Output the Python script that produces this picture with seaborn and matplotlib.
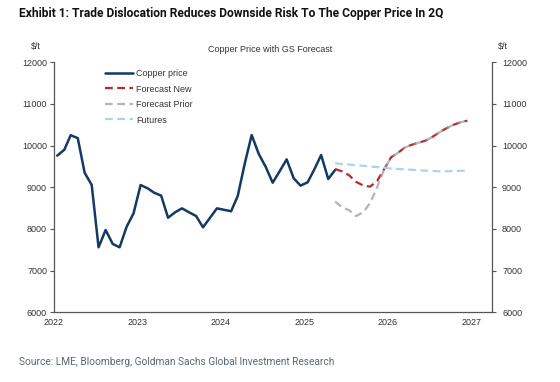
import numpy as np
import pandas as pd
import matplotlib
matplotlib.use("Agg")
import matplotlib.pyplot as plt
import matplotlib.dates as mdates
import seaborn as sns

# monthly copper price, Jan 2022 - May 2025 ($/t)
copper_price = [9760, 9900, 10250, 10180, 9350, 9055, 7560, 7975, 7640, 7560,
                8055, 8375, 9055, 8975, 8870, 8800, 8270, 8400, 8495, 8400,
                8310, 8040, 8270, 8495, 8460, 8425, 8790, 9575, 10255, 9800,
                9495, 9110, 9390, 9670, 9215, 9040, 9120, 9450, 9775, 9200,
                9415]
# forecasts, May 2025 - Dec 2026
forecast_new = [9440, 9380, 9290, 9130, 9045, 9015, 9150, 9430, 9720, 9830,
                9950, 10020, 10070, 10120, 10210, 10320, 10420, 10500, 10560, 10600]
forecast_prior = [8660, 8520, 8450, 8310, 8400, 8620, 9000, 9420, 9720, 9830,
                  9950, 10020, 10070, 10120, 10210, 10320, 10420, 10500, 10560, 10600]
futures = [9575, 9560, 9545, 9530, 9515, 9500, 9485, 9470, 9450, 9440,
           9430, 9420, 9410, 9400, 9390, 9385, 9385, 9390, 9395, 9400]

hist_dates = pd.date_range("2022-01-01", "2025-05-01", freq="MS") + pd.Timedelta(days=14)
fc_dates = pd.date_range("2025-05-01", "2026-12-01", freq="MS") + pd.Timedelta(days=14)

hist = pd.DataFrame({"date": hist_dates, "price": copper_price})
fc = pd.DataFrame({"date": fc_dates, "new": forecast_new,
                   "prior": forecast_prior, "futures": futures})

sns.set_theme(style="white")
plt.rcParams["font.family"] = ["Liberation Sans", "DejaVu Sans"]

fig = plt.figure(figsize=(5.6, 3.82), dpi=100)
ax = fig.add_axes([54 / 560, 1 - 312.3 / 382, (492.3 - 54) / 560, 250 / 382])

navy = "#123a63"
red = "#c0262d"
grey = "#9c9c9c"
lblue = "#a8d4f0"

sns.lineplot(data=hist, x="date", y="price", ax=ax, color=navy, lw=1.8,
             label="Copper price")
sns.lineplot(data=fc, x="date", y="new", ax=ax, color=red, lw=1.6,
             label="Forecast New")
ax.lines[-1].set_dashes([3.5, 2])
sns.lineplot(data=fc, x="date", y="prior", ax=ax, color=grey, lw=1.6,
             alpha=0.75, label="Forecast Prior")
ax.lines[-1].set_dashes([3.5, 2])
sns.lineplot(data=fc, x="date", y="futures", ax=ax, color=lblue, lw=1.6,
             label="Futures")
ax.lines[-1].set_dashes([3.5, 2])

ax.set_xlim(pd.Timestamp("2022-01-01"), pd.Timestamp("2027-04-03"))
ax.set_ylim(6000, 12000)
ax.set_yticks(np.arange(6000, 12001, 1000))
ax.xaxis.set_major_locator(mdates.YearLocator())
ax.xaxis.set_major_formatter(mdates.DateFormatter("%Y"))
ax.set_xlabel("")
ax.set_ylabel("")

for s in ["top", "right"]:
    ax.spines[s].set_visible(False)
for s in ["left", "bottom"]:
    ax.spines[s].set_color("#555555")
    ax.spines[s].set_linewidth(0.9)
ax.tick_params(axis="both", direction="out", length=3, width=0.8,
               color="#555555", labelsize=6.5, labelcolor="#333333", pad=2)
ax.tick_params(axis="x", pad=1)

ax2 = ax.twinx()
ax2.set_ylim(6000, 12000)
ax2.set_yticks(np.arange(6000, 12001, 1000))
for s in ["top", "left", "bottom"]:
    ax2.spines[s].set_visible(False)
ax2.spines["right"].set_color("#555555")
ax2.spines["right"].set_linewidth(0.9)
ax2.tick_params(axis="y", direction="out", length=3, width=0.8,
                color="#555555", labelsize=6.5, labelcolor="#333333", pad=4)
ax2.grid(False)

leg = ax.legend(loc="upper left", bbox_to_anchor=(0.1, 1.0), frameon=False,
                fontsize=6.5, handlelength=3.2, handletextpad=0.3,
                labelspacing=0.72, borderaxespad=0.35)
for t in leg.get_texts():
    t.set_color("#333333")

fig.text(36 / 560, 1 - 47 / 382, "$/t", fontsize=6.5, color="#333333",
         ha="center", va="center")
fig.text(503 / 560, 1 - 47 / 382, "$/t", fontsize=6.5, color="#333333",
         ha="center", va="center")
fig.text(270 / 560, 1 - 49 / 382, "Copper Price with GS Forecast",
         fontsize=6.5, color="#333333", ha="center", va="center")

title = fig.text(19 / 560, 1 - 13 / 382,
                 "Exhibit 1: Trade Dislocation Reduces Downside Risk To The Copper Price In 2Q",
                 fontsize=11, fontweight="bold", color="#111111", ha="left",
                 va="center", family=["Roboto", "Liberation Sans", "DejaVu Sans"])
source = fig.text(19 / 560, 1 - 362 / 382,
                  "Source: LME, Bloomberg, Goldman Sachs Global Investment Research",
                  fontsize=8.5, color="#5b6770", ha="left", va="center",
                  family=["Roboto", "Liberation Sans", "DejaVu Sans"])

# shrink the titles until they span about the same width as the reference
renderer = fig.canvas.get_renderer()
for txt, target in [(title, 425), (source, 310)]:
    w = txt.get_window_extent(renderer).width
    if w > target:
        txt.set_fontsize(txt.get_fontsize() * target / w)

fig.savefig("out.png", dpi=100)
